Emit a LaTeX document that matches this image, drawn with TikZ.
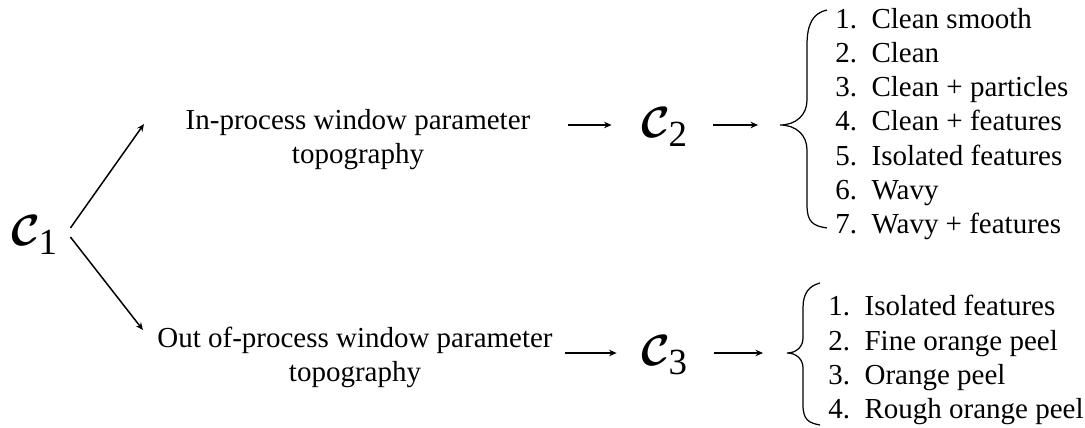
\documentclass[tikz,border=0pt]{standalone}
\usepackage{fontspec}
\setmainfont{Liberation Serif}
\usepackage{tikz}
\usetikzlibrary{arrows.meta,calc}
\newcommand{\bodyfont}{\fontsize{16.5}{19.4}\selectfont}
\newcommand{\symfont}{\fontsize{28}{32}\selectfont\boldmath}
\newcommand{\cls}[1]{$\mathcal{C}_{\mbox{\fontsize{21}{21}\selectfont #1}}$}
\tikzset{
  txt/.style={align=center, inner sep=0pt, font=\bodyfont},
  items/.style={align=left, inner sep=0pt, anchor=west, font=\bodyfont},
  sym/.style={inner sep=0pt, font=\symfont},
  flow/.style={-{Stealth[length=1.5mm, width=1.3mm]}, line width=0.85pt},
  curl/.style={line width=0.7pt},
}

\begin{document}
\begin{tikzpicture}[x=0.02cm, y=-0.02cm]
  \useasboundingbox (0,0) rectangle (1085,428);

  \node[sym] (c1) at (35,235) {\cls{1}};

  \node[txt] (inproc) at (358,140) {In-process window parameter\\topography};
  \node[txt] (outproc) at (355,357) {Out of-process window parameter\\topography};

  \node[sym] (c2) at (665,127) {\cls{2}};
  \node[sym] (c3) at (665,355) {\cls{3}};

  \coordinate (uptip) at (144,124);
  \coordinate (downtip) at (143,330);
  \coordinate (b2tip) at (780,125);
  \coordinate (b3tip) at (787,353);

  \node[items] (c2list) at (835,124) {1.\enskip Clean smooth\\2.\enskip Clean\\3.\enskip Clean + particles\\4.\enskip Clean + features\\5.\enskip Isolated features\\6.\enskip Wavy\\7.\enskip Wavy + features};
  \node[items] (c3list) at (828,360) {1.\enskip Isolated features\\2.\enskip Fine orange peel\\3.\enskip Orange peel\\4.\enskip Rough orange peel};

  % braces
  \draw[curl] (827,10) .. controls (813,13) and (807,24) .. (807,45) -- (807,100)
    .. controls (807,115) and (796,125) .. (b2tip)
    .. controls (796,125) and (807,135) .. (807,150) -- (807,205)
    .. controls (807,222) and (813,226) .. (827,228);
  \draw[curl] (820,283) .. controls (809,286) and (803,293) .. (803,308) -- (803,338)
    .. controls (803,347) and (796,353) .. (b3tip)
    .. controls (796,353) and (803,359) .. (803,368) -- (803,405)
    .. controls (803,420) and (809,423) .. (820,425);

  \draw[flow] ([shift={(12,-7)}]c1.east) -- (uptip);
  \draw[flow] ([shift={(12,2)}]c1.east) -- (downtip);
  \draw[flow, shorten <=7.4mm, shorten >=6mm] (inproc.east |- b2tip) -- (c2.west |- b2tip);
  \draw[flow, shorten <=5mm, shorten >=4.4mm] (c2.east |- b2tip) -- (b2tip);
  \draw[flow, shorten <=2.4mm, shorten >=5mm] (outproc.east |- b3tip) -- (c3.west |- b3tip);
  \draw[flow, shorten <=5.2mm, shorten >=4.8mm] (c3.east |- b3tip) -- (b3tip);
\end{tikzpicture}
\end{document}
